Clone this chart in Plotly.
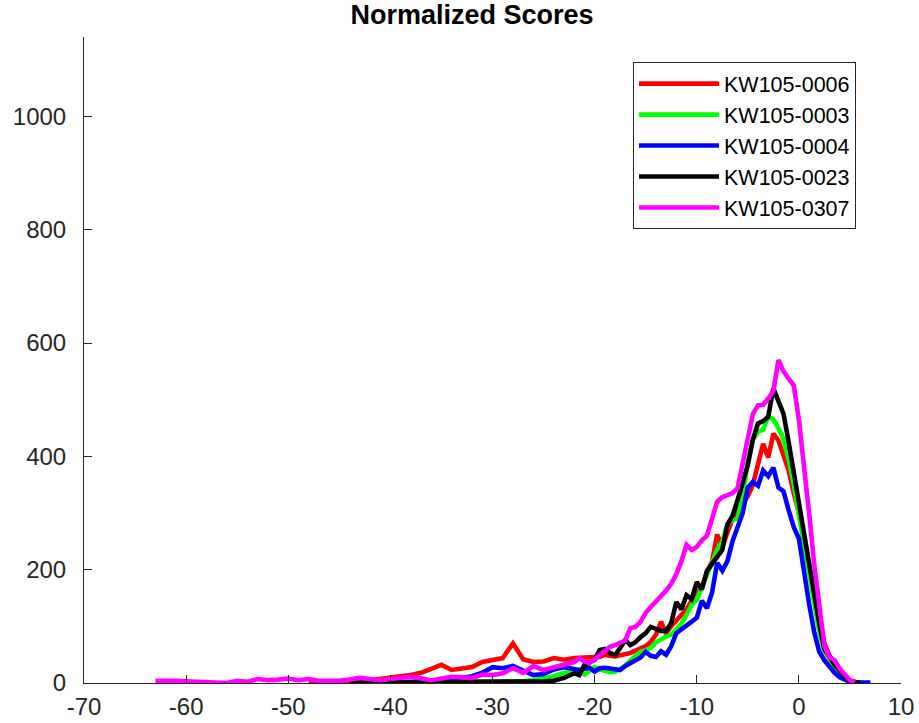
import plotly.graph_objects as go

X = [-63, -62, -61, -60, -59, -58, -57, -56, -55, -54,
     -53, -52, -51, -50, -49, -48, -47, -46, -45, -44,
     -43, -42, -41, -40, -39, -38, -37, -36, -35, -34,
     -33, -32, -31, -30, -29, -28, -27, -26, -25, -24,
     -23, -22,
     -21.5, -21, -20.5, -20, -19.5, -19, -18.5, -18, -17.5, -17,
     -16.5, -16, -15.5, -15, -14.5, -14, -13.5, -13, -12.5, -12,
     -11.5, -11, -10.5, -10, -9.5, -9, -8.5, -8, -7.5, -7,
     -6.5, -6, -5.5, -5, -4.5, -4, -3.5, -3, -2.5, -2,
     -1.5, -1, -0.5, 0, 0.5, 1, 1.5, 2, 2.5, 3,
     3.5, 4, 4.5, 5, 5.5, 6, 6.5, 7]

N = None
red = [N]*15 + [1, 1, 1, 2, 2, 3, 5, 8, 11, 12, 14, 18, 25, 32, 23, 26, 28, 37, 41, 44, 70, 42, 37, 38, 44, 41, 44] + \
      [45, 46, 45, 46, 46, 50, 48, 47, 49, 50,
       53, 57, 60, 65, 73, 85, 108, 88, 100, 110,
       118, 130, 145, 158, 170, 195, 215, 262, 240, 265,
       290, 305, 318, 330, 350, 388, 422, 398, 440, 428,
       400, 375, 335, 300, 250, 205, 150, 105, 70, 48,
       38, 25, 12, 4, 1, 0, N, N]

green = [N]*21 + [1, 1, 1, 1, 2, 1, 2, 2, 2, 3, 3, 2, 3, 3, 3, 3, 5, 8, 12, 18, 19] + \
        [20, 15, 22, 28, 24, 22, 19, 20, 24, 30,
         40, 47, 55, 58, 62, 72, 78, 82, 85, 96,
         105, 120, 138, 147, 170, 190, 215, 235, 250, 280,
         288, 290, 330, 390, 430, 443, 447, 470, 465, 450,
         430, 395, 350, 300, 250, 195, 140, 90, 55, 42,
         30, 20, 9, 3, 1, 0, N, N]

blue = [N]*23 + [1, 1, 2, 2, 3, 4, 6, 8, 12, 18, 28, 26, 30, 22, 14, 16, 24, 28, 26] + \
       [23, 25, 27, 20, 26, 27, 25, 25, 23, 30,
        35, 38, 45, 55, 48, 46, 56, 50, 65, 88,
        95, 102, 108, 115, 145, 132, 160, 212, 198, 215,
        250, 275, 300, 345, 355, 348, 375, 365, 380, 345,
        338, 305, 275, 255, 195, 140, 90, 55, 40, 28,
        18, 10, 5, 2, 1, 1, 1, 1]

black = [N]*19 + [1, 1, 1, 1, 2, 1, 2, 1, 2, 2, 2, 2, 2, 2, 2, 2, 2, 2, 3, 3, 4, 9, 17] + \
        [14, 32, 37, 41, 58, 60, 53, 49, 62, 76,
         67, 72, 81, 88, 99, 95, 92, 92, 106, 143,
         130, 155, 148, 178, 165, 198, 210, 225, 235, 280,
         295, 323, 355, 385, 430, 458, 462, 470, 520, 498,
         475, 425, 370, 315, 265, 215, 160, 105, 60, 45,
         33, 22, 11, 4, 1, 0, N, N]

magenta = [4, 5, 4, 3, 2, 2, 1, 0, 4, 2, 7, 5, 6, 8, 5, 7, 4, 3, 4, 6,
           9, 7, 5, 7, 9, 11, 8, 5, 8, 11, 10, 9, 15, 14, 17, 26, 18, 30, 23, 27,
           32, 37] + \
          [44, 38, 35, 42, 50, 57, 64, 67, 70, 75,
           97, 99, 108, 124, 134, 143, 152, 163, 175, 192,
           215, 244, 235, 240, 252, 260, 290, 320, 328, 332,
           335, 344, 385, 430, 475, 490, 491, 502, 515, 570,
           550, 537, 525, 465, 390, 300, 210, 130, 65, 45,
           40, 25, 15, 5, 1, N, N, N]

names = ["KW105-0006", "KW105-0003", "KW105-0004", "KW105-0023", "KW105-0307"]
series = [red, green, blue, black, magenta]
colors = ["#ff0000", "#00ff00", "#0000ff", "#000000", "#ff00ff"]

x_ticks = [-70, -60, -50, -40, -30, -20, -10, 0, 10]
x_labels = ["-70", "-60", "-50", "-40", "-30", "-20", "-10", "0", "10"]
y_ticks = [0, 200, 400, 600, 800, 1000]
y_labels = ["0", "200", "400", "600", "800", "1000"]

FONT = "Liberation Sans, Arial, Helvetica, sans-serif"
AX = "#262626"

fig = go.Figure()
for name, ys, c in zip(names, series, colors):
    fig.add_trace(go.Scatter(x=X, y=ys, mode="lines", name=name,
                             line=dict(color=c, width=4.6), connectgaps=False))

fig.update_layout(
    width=919, height=723,
    margin=dict(l=84, r=18, t=37, b=40, autoexpand=False),
    paper_bgcolor="white", plot_bgcolor="white",
    font=dict(family=FONT, color=AX, size=24),
    title=dict(text="<b>Normalized Scores</b>", x=0.475, xref="paper", xanchor="center",
               y=1 - 15 / 723, yref="container", yanchor="middle",
               font=dict(family=FONT, size=27, color="#000000")),
    showlegend=True,
    legend=dict(x=0.672, y=0.961, xanchor="left", yanchor="top",
                bgcolor="white", bordercolor=AX, borderwidth=1,
                font=dict(family=FONT, size=21.5, color="#000000"),
                itemwidth=80, tracegroupgap=0),
)
fig.update_xaxes(range=[-70, 10], tickvals=x_ticks, ticktext=x_labels,
                 ticks="inside", ticklen=8, automargin=False,
                 tickcolor=AX, showline=True, linecolor=AX, linewidth=1,
                 showgrid=False, zeroline=False, mirror=False,
                 ticklabelstandoff=2,
                 tickfont=dict(family=FONT, size=24, color=AX))
fig.update_yaxes(range=[0, 1140], tickvals=y_ticks, ticktext=y_labels,
                 ticks="inside", ticklen=8, automargin=False,
                 tickcolor=AX, showline=True, linecolor=AX, linewidth=1,
                 showgrid=False, zeroline=False, mirror=False,
                 ticklabelstandoff=12,
                 tickfont=dict(family=FONT, size=24, color=AX))

fig.write_html("out.html")
